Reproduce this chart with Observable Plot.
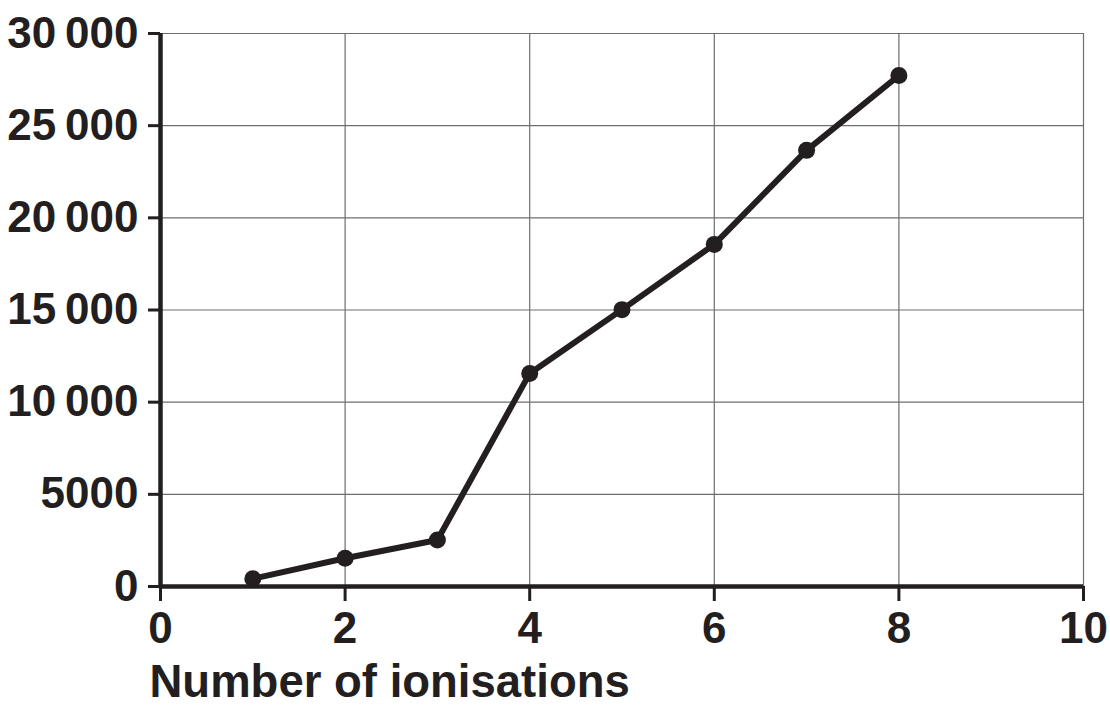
<!DOCTYPE html>
<html>
<head>
<meta charset="utf-8">
<script src="https://cdn.jsdelivr.net/npm/d3@7"></script>
<script src="https://cdn.jsdelivr.net/npm/@observablehq/plot@0.6"></script>
<style>
  html, body { margin: 0; padding: 0; background: #fff; }
  svg { display: block; }
</style>
</head>
<body>
<div id="chart"></div>
<script>
const ionisations = [1, 2, 3, 4, 5, 6, 7, 8];
const energies = [420, 1530, 2520, 11560, 15020, 18560, 23660, 27720];
const xTicks = [0, 2, 4, 6, 8, 10];
const yTicks = [0, 5000, 10000, 15000, 20000, 25000, 30000];
const xLabel = "Number of ionisations";

const data = ionisations.map((n, i) => ({n, e: energies[i]}));
const ink = "#231f20";
const fmtY = d => d >= 10000 ? String(d).replace(/(\d+)(\d{3})$/, "$1\u2009$2") : String(d);

const chart = Plot.plot({
  width: 1110,
  height: 708,
  marginLeft: 160,
  marginRight: 27,
  marginTop: 33,
  marginBottom: 122,
  style: {fontFamily: "'Liberation Sans', Arial, Helvetica, sans-serif", color: ink, background: "#fff"},
  x: {domain: [0, 10]},
  y: {domain: [0, 30000]},
  marks: [
    Plot.gridX(xTicks, {stroke: "#6e6e6e", strokeOpacity: 1, strokeWidth: 1.2}),
    Plot.gridY(yTicks, {stroke: "#6e6e6e", strokeOpacity: 1, strokeWidth: 1.2}),
    Plot.axisX(xTicks, {tickSize: 15, tickPadding: 10, fontSize: 44, fontWeight: "bold", stroke: ink, strokeWidth: 3, fill: ink, label: null, tickFormat: d => String(d)}),
    Plot.axisY(yTicks, {tickSize: 12, tickPadding: 10, fontSize: 44, fontWeight: "bold", stroke: ink, strokeWidth: 3, fill: ink, label: null, tickFormat: fmtY}),
    Plot.ruleX([0], {stroke: ink, strokeWidth: 4.5}),
    Plot.ruleY([0], {stroke: ink, strokeWidth: 4.5}),
    Plot.line(data, {x: "n", y: "e", stroke: ink, strokeWidth: 6}),
    Plot.dot(data, {x: "n", y: "e", r: 8.5, fill: ink, stroke: "none"}),
    Plot.text([xLabel], {frameAnchor: "bottom-left", text: d => d, dx: -11, dy: 110, textAnchor: "start", lineAnchor: "bottom", fontSize: 45.5, fontWeight: "bold", fill: ink})
  ]
});
document.getElementById("chart").append(chart);
</script>
</body>
</html>
